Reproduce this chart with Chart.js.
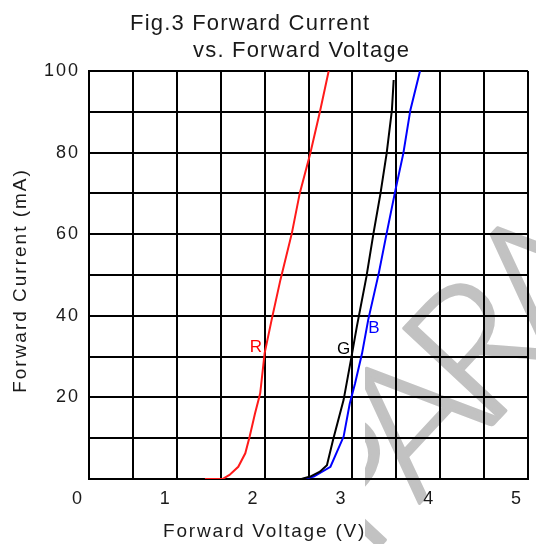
<!DOCTYPE html>
<html>
<head>
<meta charset="utf-8">
<script src="https://cdn.jsdelivr.net/npm/chart.js@4.4.0/dist/chart.umd.min.js"></script>
<style>
  html, body { margin: 0; padding: 0; background: #ffffff; }
  #wrap { width: 536px; height: 544px; }
</style>
</head>
<body>
<div id="wrap"><canvas id="c" width="536" height="544"></canvas></div>
<script>
// ---- data ----
const voltTickLabels = [0, 1, 2, 3, 4, 5];
const currentTickLabels = [20, 40, 60, 80, 100];

const redVoltage   = [1.32, 1.52, 1.60, 1.70, 1.78, 1.83, 1.89, 1.95, 2.00, 2.08, 2.18, 2.31, 2.40, 2.52, 2.63, 2.73];
const redCurrent   = [0,    0,    1,    3,    6.3,  10.4, 16,   21,   30.8, 39,   48.8, 60.2, 70,   79.8, 90,   100];

const greenVoltage = [2.42, 2.52, 2.63, 2.71, 2.78, 2.90, 2.99, 3.05, 3.16, 3.24, 3.32, 3.39, 3.45, 3.47];
const greenCurrent = [0,    0.6,  1.8,  3.4,  9.6,  19.4, 30,   37.3, 49.6, 60.2, 70,   79.8, 90.4, 97.8];

const blueVoltage  = [2.44, 2.56, 2.75, 2.90, 2.97, 3.03, 3.11, 3.18, 3.30, 3.39, 3.49, 3.58, 3.66, 3.77];
const blueCurrent  = [0,    0.6,  3,    10.4, 18.5, 23.4, 30.8, 39,   50.4, 60.2, 70.8, 79.8, 90.4, 100];

const curveLabels   = ['R', 'G', 'B'];
const curveLabelV   = [1.90, 2.90, 3.245];
const curveLabelI   = [32.3, 31.9, 37];
const curveColors   = ['#ff0000', '#000000', '#0000ff'];

const titleLine1 = 'Fig.3 Forward Current';
const titleLine2 = 'vs. Forward Voltage';
const xTitle = 'Forward Voltage (V)';
const yTitle = 'Forward Current (mA)';
const watermarkHead = 'P';
const watermarkTail = 'ARA';

function pts(xs, ys) { return xs.map((v, i) => ({ x: v, y: ys[i] })); }

const FONT = '"Liberation Sans", Arial, sans-serif';

const watermark = {
  id: 'watermark',
  beforeDraw(chart) {
    const ctx = chart.ctx;
    ctx.save();
    ctx.beginPath();
    ctx.rect(365, 0, 536 - 365, 544);
    ctx.clip();
    ctx.fillStyle = '#c2c2c2';
    ctx.strokeStyle = '#c2c2c2';
    ctx.lineWidth = 3;
    ctx.lineJoin = 'round';
    ctx.font = '300 185px Lato, "Liberation Sans", sans-serif';
    ctx.letterSpacing = '0px';
    const wP = ctx.measureText('P').width;
    const wA = ctx.measureText('A').width;
    const wR = ctx.measureText('R').width;
    const cap = ctx.measureText('A').actualBoundingBoxAscent;
    const ls = (192 - wA - wR) / 2;
    const th = -47 * Math.PI / 180;
    const ax = wP + ls + wA / 2, ay = -cap + 6;
    const ox = ax * Math.cos(th) - ay * Math.sin(th);
    const oy = ax * Math.sin(th) + ay * Math.cos(th);
    ctx.textAlign = 'left';
    ctx.textBaseline = 'alphabetic';
    ctx.translate(367 - ox, 375 - oy);
    ctx.rotate(th);
    ctx.fillText(watermarkHead, 10, 0);
    ctx.strokeText(watermarkHead, 10, 0);
    ctx.letterSpacing = ls + 'px';
    ctx.fillText(watermarkTail, wP + ls, 0);
    ctx.strokeText(watermarkTail, wP + ls, 0);
    ctx.restore();
  }
};

const spacing = {
  id: 'spacing',
  beforeUpdate(chart) { chart.ctx.letterSpacing = '2px'; },
  beforeDraw(chart) { chart.ctx.letterSpacing = '2px'; }
};

const texts = {
  id: 'texts',
  afterDraw(chart) {
    const ctx = chart.ctx;
    const xs = chart.scales.x, ys = chart.scales.y;
    ctx.save();
    ctx.fillStyle = '#1a1a1a';
    ctx.textBaseline = 'alphabetic';
    ctx.textAlign = 'left';
    ctx.font = '22px ' + FONT;
    ctx.letterSpacing = '1.2px';
    ctx.fillText(titleLine1, 130, 30);
    ctx.fillText(titleLine2, 193, 57);

    ctx.font = '19px ' + FONT;
    ctx.letterSpacing = '1.8px';
    ctx.fillText(xTitle, 163, 537);

    ctx.save();
    ctx.translate(26, 280.5);
    ctx.rotate(-Math.PI / 2);
    ctx.textAlign = 'center';
    ctx.letterSpacing = '2px';
    ctx.fillText(yTitle, 0, 0);
    ctx.restore();

    ctx.font = '17px ' + FONT;
    ctx.letterSpacing = '0px';
    ctx.textAlign = 'center';
    ctx.textBaseline = 'middle';
    curveLabels.forEach((t, i) => {
      ctx.fillStyle = curveColors[i];
      ctx.fillText(t, xs.getPixelForValue(curveLabelV[i]), ys.getPixelForValue(curveLabelI[i]));
    });
    ctx.restore();
  }
};

const lineDs = (xs, ys, color) => ({
  data: pts(xs, ys),
  showLine: true,
  borderColor: color,
  backgroundColor: color,
  borderWidth: 2,
  pointRadius: 0,
  tension: 0,
  fill: false
});

new Chart(document.getElementById('c'), {
  type: 'scatter',
  data: {
    datasets: [
      lineDs(redVoltage, redCurrent, '#ff1a1a'),
      lineDs(greenVoltage, greenCurrent, '#000000'),
      lineDs(blueVoltage, blueCurrent, '#0000ff')
    ]
  },
  options: {
    responsive: false,
    animation: false,
    devicePixelRatio: 1,
    layout: { padding: { top: 71, right: 8, left: 0, bottom: 0 } },
    plugins: { legend: { display: false }, tooltip: { enabled: false }, title: { display: false } },
    scales: {
      x: {
        type: 'linear', min: 0, max: 5,
        afterFit(s) { s.height = 65; s.paddingLeft = 0; s.paddingRight = 0; },
        grid: { color: '#000', lineWidth: 2, drawTicks: false },
        border: { display: true, color: '#000', width: 2 },
        ticks: {
          stepSize: 0.5, autoSkip: false, maxRotation: 0, padding: 9, labelOffset: -11,
          color: '#1a1a1a', font: { family: FONT, size: 18 },
          callback(v) {
            const r = Math.round(v);
            return (Math.abs(v - r) < 1e-6 && voltTickLabels.includes(r)) ? String(r) : '';
          }
        }
      },
      y: {
        type: 'linear', min: 0, max: 100,
        afterFit(s) { s.width = 89; s.paddingTop = 0; s.paddingBottom = 0; },
        grid: { color: '#000', lineWidth: 2, drawTicks: false },
        border: { display: true, color: '#000', width: 2 },
        ticks: {
          stepSize: 10, autoSkip: false, padding: 9,
          color: '#1a1a1a', font: { family: FONT, size: 18 },
          callback(v) { return currentTickLabels.includes(v) ? String(v) : ''; }
        }
      }
    }
  },
  plugins: [spacing, watermark, texts]
});
</script>
</body>
</html>
